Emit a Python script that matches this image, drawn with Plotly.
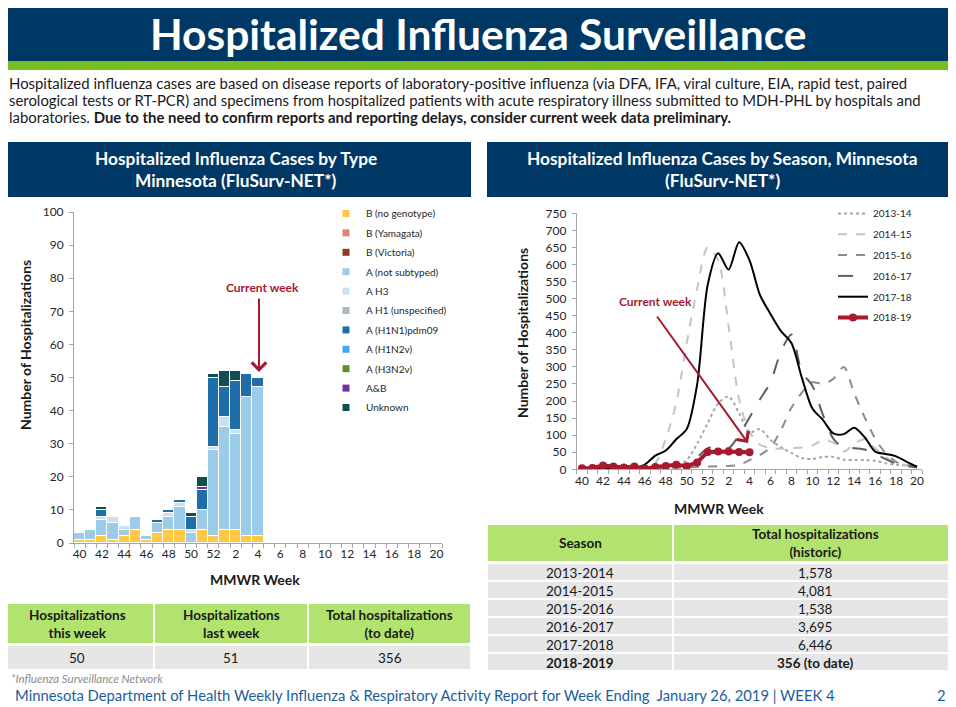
import plotly.graph_objects as go

# the page puts the figure 8px in from the top-left corner, so the canvas is
# drawn 8px smaller and everything is laid out in reference-picture pixels
OFF = 8
W, H = 956 - OFF, 707 - OFF


def px(x):
    return (x - OFF) / W


def py(y):
    return 1 - (y - OFF) / H


NAVY = '#003865'
LIME = '#78BE21'
CRIMSON = '#A6192E'
TABLE_GREEN = '#B2E36F'
ROW_GREY = '#E6E6E6'
FONT = 'Lato'

# MMWR weeks shown on both x axes
weeks = list(range(40, 53)) + list(range(1, 21))
week_idx = list(range(len(weeks)))

# ---- cases by type, weeks 40..4 (stack order bottom -> top)
b_no_genotype = [1, 1, 2, 1, 2, 4, 1, 3, 4, 4, 0, 4, 2, 4, 4, 2, 2]
b_yamagata = []
b_victoria = []
a_not_subtyped = [2, 3, 5, 5, 2, 4, 1, 3, 4, 7, 3, 6, 26, 31, 29, 42, 45]
a_h3 = [0, 0, 1, 2, 1, 0, 0, 0, 1, 1, 1, 0, 1, 3, 1, 0, 0]
a_h1_unspecified = []
a_h1n1pdm09 = [0, 0, 2, 0, 0, 0, 0, 1, 1, 1, 4, 6, 21, 9, 15, 7, 3]
a_h1n2v = []
a_h3n2v = []
a_and_b = [0, 0, 0, 0, 0, 0, 0, 0, 0, 0, 0, 1, 0, 0, 0, 0, 0]
unknown = [0, 0, 1, 0, 0, 0, 0, 0, 0, 0, 1, 3, 1, 5, 3, 0, 0]

type_names = ['B (no genotype)', 'B (Yamagata)', 'B (Victoria)', 'A (not subtyped)', 'A H3',
              'A H1 (unspecified)', 'A (H1N1)pdm09', 'A (H1N2v)', 'A (H3N2v)', 'A&B', 'Unknown']
type_values = [b_no_genotype, b_yamagata, b_victoria, a_not_subtyped, a_h3, a_h1_unspecified,
               a_h1n1pdm09, a_h1n2v, a_h3n2v, a_and_b, unknown]
type_colors = ['#FFC845', '#DE8770', '#8E3A2A', '#9DCBEA', '#C8E1F5', '#A9BAC4',
               '#1F6EA9', '#41A8F0', '#5E9124', '#7030A0', '#0F4F54']

# ---- cases by season, weeks 40..20
season_names = ['2013-14', '2014-15', '2015-16', '2016-17', '2017-18', '2018-19']
s2013_14 = [2, 2, 2, 3, 3, 3, 3, 3, 5, 12, 27, 75, 135, 193, 213, 165, 108, 118, 86, 65,
            48, 33, 30, 36, 36, 28, 27, 27, 25, 18, 13, 11, 8]
s2014_15 = [3, 3, 3, 4, 4, 5, 6, 18, 90, 195, 370, 530, 650, 612, 420, 205, 110, 72, 62, 60,
            62, 64, 70, 85, 78, 52, 75, 88, 62, 35, 20, 12, 8]
s2015_16 = [2, 2, 2, 2, 2, 2, 3, 3, 4, 5, 6, 7, 8, 9, 10, 13, 27, 42, 64, 115,
            180, 225, 255, 250, 265, 300, 222, 152, 90, 47, 22, 12, 8]
s2016_17 = [3, 3, 3, 3, 4, 4, 5, 6, 8, 10, 14, 35, 62, 65, 62, 100, 152, 205, 255, 345,
            395, 285, 245, 160, 90, 62, 62, 58, 45, 30, 17, 10, 5]
s2017_18 = [2, 2, 2, 2, 3, 4, 14, 40, 55, 88, 118, 250, 540, 633, 585, 665, 612, 510, 455, 405,
            370, 268, 178, 145, 105, 103, 122, 94, 52, 45, 38, 22, 8]
s2018_19 = [3, 4, 11, 8, 5, 8, 2, 7, 10, 13, 9, 20, 51, 52, 52, 51, 50]
season_values = [s2013_14, s2014_15, s2015_16, s2016_17, s2017_18, s2018_19]
season_colors = ['#A6A6A6', '#C4C4C4', '#8C8C8C', '#5F5F5F', '#000000', CRIMSON]
season_dash = ['dot', 'dash', 'dash', 'longdash', 'solid', 'solid']

# ---- tables
summary_headers = ['Hospitalizations<br>this week', 'Hospitalizations<br>last week',
                   'Total hospitalizations<br>(to date)']
summary_values = ['50', '51', '356']
season_labels = ['2013-2014', '2014-2015', '2015-2016', '2016-2017', '2017-2018', '2018-2019']
season_totals = ['1,578', '4,081', '1,538', '3,695', '6,446', '356 (to date)']

fig = go.Figure()

# stacked bars (left)
for name, vals, col in zip(type_names, type_values, type_colors):
    if vals:
        fig.add_trace(go.Bar(x=week_idx[:len(vals)], y=vals, name=name, marker_color=col,
                             marker_line=dict(color='white', width=1), showlegend=False,
                             xaxis='x', yaxis='y'))
    # small square legend entries
    fig.add_trace(go.Scatter(x=[None], y=[None], mode='markers', name=name, legendgroup=name,
                             marker=dict(symbol='square', size=7, color=col),
                             legend='legend', xaxis='x', yaxis='y'))

# season lines (right)
for name, vals, col, dash in zip(season_names, season_values, season_colors, season_dash):
    current = name == '2018-19'
    fig.add_trace(go.Scatter(
        x=week_idx[:len(vals)], y=vals, name=name, legendgroup=name,
        mode='lines+markers' if current else 'lines',
        line=dict(color=col, width=4 if current else 2, dash=dash,
                  shape='linear' if current else 'spline', smoothing=0.8),
        marker=dict(size=8, color=col),
        legend='legend2', xaxis='x2', yaxis='y2'))

axis_common = dict(showgrid=False, zeroline=False, showline=True, linecolor='#A6A6A6',
                   linewidth=1, automargin=False,
                   tickfont=dict(family=FONT, size=12, color='#262626'))
minor_ticks = dict(tickmode='linear', tick0=-0.5, dtick=1, ticks='outside', ticklen=4,
                   tickcolor='#A6A6A6', showgrid=False)

fig.update_layout(
    template='none',
    width=W, height=H, margin=dict(l=0, r=0, t=0, b=0, pad=0), autosize=False,
    paper_bgcolor='white', plot_bgcolor='white',
    barmode='stack', bargap=0,
    font=dict(family=FONT, color='#262626'),
    xaxis=dict(domain=[px(74), px(442)], range=[-0.5, 32.5], tickvals=week_idx[::2],
               ticktext=[str(w) for w in weeks[::2]], ticks='', minor=minor_ticks, **axis_common),
    yaxis=dict(domain=[py(543), py(212)], range=[0, 100], dtick=10, ticks='outside',
               ticklen=4, tickcolor='#A6A6A6', ticklabelstandoff=3, **axis_common),
    xaxis2=dict(domain=[px(576.8), px(922.3)], range=[-0.5, 32.5], tickvals=week_idx[::2],
                ticktext=[str(w) for w in weeks[::2]], ticks='', minor=minor_ticks,
                anchor='y2', **axis_common),
    yaxis2=dict(domain=[py(469.3), py(213.3)], range=[0, 750], dtick=50, ticks='outside',
                ticklen=4, tickcolor='#A6A6A6', ticklabelstandoff=3, anchor='x2', **axis_common),
    legend=dict(x=px(326), y=py(199), xanchor='left', yanchor='top', traceorder='grouped',
                tracegroupgap=0.4, bgcolor='rgba(0,0,0,0)', borderwidth=0,
                font=dict(family=FONT, size=10, color='#262626'), itemwidth=30),
    legend2=dict(x=px(833), y=py(199), xanchor='left', yanchor='top', traceorder='grouped',
                 tracegroupgap=1.8, bgcolor='rgba(0,0,0,0)', borderwidth=0,
                 font=dict(family=FONT, size=10, color='#262626'), itemwidth=30),
)

shapes = []


def box(x0, x1, y0, y1, color, line=None):
    shapes.append(dict(type='rect', xref='paper', yref='paper', x0=px(x0), x1=px(x1),
                       y0=py(y1), y1=py(y0), fillcolor=color, layer='below',
                       line=dict(color=line or color, width=2 if line else 0)))


# header bars
box(0, 956, 0, 61, NAVY)
box(0, 956, 61, 70, LIME)
box(0, 471, 142, 197, NAVY)
box(487, 956, 142, 197, NAVY)


def note(x, y, text, size, color='#1A1A1A', xanchor='center', **kw):
    fig.add_annotation(x=px(x), y=py(y), xref='paper', yref='paper', text=text,
                       showarrow=False, xanchor=xanchor, yanchor='middle',
                       font=dict(family=FONT, size=size, color=color), **kw)


note(478, 33.5, '<b>Hospitalized Influenza Surveillance</b>', 42.5, 'white')
note(7, 83, 'Hospitalized influenza cases are based on disease reports of laboratory-positive '
     'influenza (via DFA, IFA, viral culture, EIA, rapid test, paired', 14.9, xanchor='left')
note(7, 100, 'serological tests or RT-PCR) and specimens from hospitalized patients with acute '
     'respiratory illness submitted to MDH-PHL by hospitals and', 14.9, xanchor='left')
note(7, 117, 'laboratories. <b>Due to the need to confirm reports and reporting delays, consider '
     'current week data preliminary.</b>', 14.9, xanchor='left')

note(236, 159, '<b>Hospitalized Influenza Cases by Type</b>', 17.3, 'white')
note(236, 181, '<b>Minnesota (FluSurv-NET*)</b>', 17.3, 'white')
note(722, 159, '<b>Hospitalized Influenza Cases by Season, Minnesota</b>', 17.3, 'white')
note(722, 181, '<b>(FluSurv-NET*)</b>', 17.3, 'white')

note(25, 345, '<b>Number of Hospitalizations</b>', 14, textangle=-90)
note(522, 333, '<b>Number of Hospitalizations</b>', 14, textangle=-90)
note(255, 579, '<b>MMWR Week</b>', 14)
note(719, 508, '<b>MMWR Week</b>', 14)

# current week pointers
note(262, 287, '<b>Current week</b>', 12, CRIMSON)
fig.add_annotation(x=px(259), y=py(372), xref='paper', yref='paper', ax=0, ay=-75,
                   showarrow=True, arrowhead=4, arrowsize=1.4, arrowwidth=2,
                   arrowcolor=CRIMSON, text='')
note(655, 301, '<b>Current week</b>', 12, CRIMSON)
fig.add_annotation(x=px(748), y=py(443), xref='paper', yref='paper', ax=-92, ay=-128,
                   showarrow=True, arrowhead=4, arrowsize=1.4, arrowwidth=2,
                   arrowcolor=CRIMSON, text='')

# summary table (left)
left_cols = [0, 154, 308, 471]
for i, (head, val) in enumerate(zip(summary_headers, summary_values)):
    x0, x1 = left_cols[i], left_cols[i + 1]
    box(x0, x1, 603, 644, TABLE_GREEN, 'white')
    box(x0, x1, 645, 670, ROW_GREY, 'white')
    note((x0 + x1) / 2, 624, '<b>%s</b>' % head, 13.5)
    note((x0 + x1) / 2, 657.5, val, 13.5)

# season table (right)
right_cols = [487, 673, 956]
box(right_cols[0], right_cols[1], 524, 562, TABLE_GREEN, 'white')
box(right_cols[1], right_cols[2], 524, 562, TABLE_GREEN, 'white')
note(580, 543, '<b>Season</b>', 13.5)
note(815, 543, '<b>Total hospitalizations<br>(historic)</b>', 13.5)
for r, (lab, tot) in enumerate(zip(season_labels, season_totals)):
    y0 = 563 + 18 * r
    box(right_cols[0], right_cols[1], y0, y0 + 18, ROW_GREY, 'white')
    box(right_cols[1], right_cols[2], y0, y0 + 18, ROW_GREY, 'white')
    last = r == len(season_labels) - 1
    note(580, y0 + 9.5, '<b>%s</b>' % lab if last else lab, 13.5)
    note(815, y0 + 9.5, '<b>%s</b>' % tot if last else tot, 13.5)

fig.update_layout(shapes=shapes)

note(9, 678, '<i>*Influenza Surveillance Network</i>', 11.5, '#8C8C8C', xanchor='left')
note(13, 695, 'Minnesota Department of Health Weekly Influenza &amp; Respiratory Activity Report '
     'for Week Ending  January 26, 2019 | WEEK 4', 14.8, '#1B5E9B', xanchor='left')
note(941, 695, '2', 14.8, '#1B5E9B')

fig.write_html("out.html")
